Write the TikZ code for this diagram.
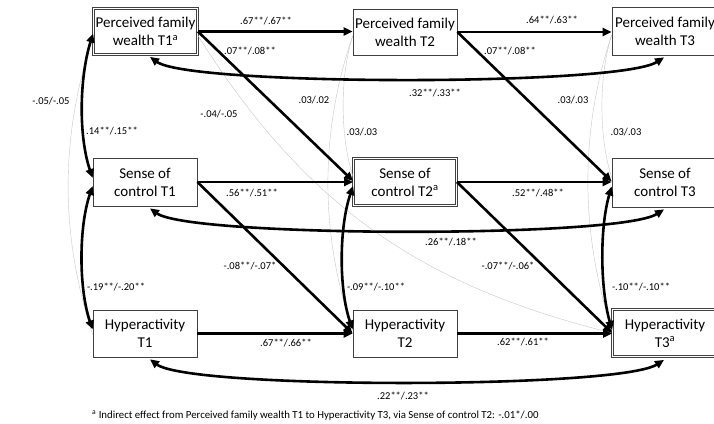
\documentclass[tikz,border=0pt]{standalone}
\usepackage{fontspec}
\setmainfont{Carlito}
\usetikzlibrary{arrows.meta,calc}
\begin{document}
\begin{tikzpicture}[x=1pt,y=-1pt,
  box/.style={draw=black!75, line width=0.7pt, align=center, fill=white,
    font=\fontsize{15}{18}\selectfont, inner sep=0pt},
  dbox/.style={box, double=white, double distance=1.4pt, line width=0.8pt},
  reg/.style={line width=2.6pt, -{Triangle[length=9pt,width=8pt]}},
  cov/.style={line width=2.6pt, {Triangle[length=9pt,width=8pt]}-{Triangle[length=9pt,width=8pt]}},
  faint/.style={line width=0.4pt, draw=black!22},
  lab/.style={font=\fontsize{10.5}{12}\selectfont, inner sep=0pt},
  note/.style={font=\fontsize{10.8}{12}\selectfont, inner sep=0pt}
]
\useasboundingbox (0,0) rectangle (714,423);

% boxes
\node[dbox, minimum width=104pt, minimum height=46pt] (pfw1) at (145.5,31.5) {Perceived family\\wealth T1\textsuperscript{a}};
\node[box, minimum width=104pt, minimum height=46pt] (pfw2) at (405,32) {Perceived family\\wealth T2};
\node[box, minimum width=106pt, minimum height=48pt] (pfw3) at (665,31) {Perceived family\\wealth T3};
\node[box, minimum width=104pt, minimum height=48pt] (s1) at (145,182) {Sense of\\control T1};
\node[dbox, minimum width=103pt, minimum height=47pt] (s2) at (405,182) {Sense of\\control T2\textsuperscript{a}};
\node[box, minimum width=106pt, minimum height=49pt] (s3) at (665,182.5) {Sense of\\control T3};
\node[box, minimum width=104pt, minimum height=47pt] (h1) at (145,333.5) {Hyperactivity\\T1};
\node[box, minimum width=104pt, minimum height=47pt] (h2) at (405,333.5) {Hyperactivity\\T2};
\node[dbox, minimum width=105pt, minimum height=47pt] (h3) at (665,333) {Hyperactivity\\T3\textsuperscript{a}};

% faint paths
\draw[faint] ($(pfw1.west)+(0,5)$) .. controls ($(pfw1.west)+(-33,105)$) and ($(h1.west)+(-33,-100)$) .. ($(h1.west)+(0,1)$);
\draw[faint] ($(pfw2.west)+(0,4)$) .. controls ($(pfw2.west)+(-13,45)$) and ($(s2.west)+(-13,-45)$) .. ($(s2.west)+(0,-5)$);
\draw[faint] ($(pfw2.west)+(0,4)$) .. controls ($(pfw2.west)+(-33,100)$) and ($(h2.west)+(-33,-100)$) .. ($(h2.west)+(0,-3)$);
\draw[faint] ($(pfw3.west)+(0,4)$) .. controls ($(pfw3.west)+(-13,45)$) and ($(s3.west)+(-13,-45)$) .. ($(s3.west)+(0,-5)$);
\draw[faint] ($(pfw3.west)+(0,4)$) .. controls ($(pfw3.west)+(-32,100)$) and ($(h3.west)+(-32,-100)$) .. ($(h3.west)+(0,-3)$);
\draw[faint] ($(pfw1.east)+(0,4)$) .. controls (304,204) and (418,285) .. (h3.west);

% autoregressive paths
\draw[reg] (pfw1.east) -- (pfw1.east -| pfw2.west);
\draw[reg] (pfw2.east) -- (pfw2.east -| pfw3.west);
\draw[reg] (s1.east) -- (s1.east -| s2.west);
\draw[reg] (s2.east) -- (s2.east -| s3.west);
\draw[reg] (h1.east) -- (h1.east -| h2.west);
\draw[reg] (h2.east) -- (h2.east -| h3.west);

% cross-lagged paths
\draw[reg] (pfw1.east) -- ($(s2.west)+(0,-1)$);
\draw[reg] (pfw2.east) -- ($(s3.west)+(0,-1)$);
\draw[reg] (s1.east) -- (h2.west);
\draw[reg] (s2.east) -- (h3.west);

% vertical covariances
\draw[cov] ($(pfw1.west)+(0,2)$) .. controls ($(pfw1.west)+(-14,47)$) and ($(s1.west)+(-14,-45)$) .. ($(s1.west)+(0,-4)$);
\draw[cov] ($(s1.west)+(0,4)$) .. controls ($(s1.west)+(-14,45)$) and ($(h1.west)+(-14,-45)$) .. ($(h1.west)+(0,-4)$);
\draw[cov] ($(s2.west)+(0,4)$) .. controls ($(s2.west)+(-14,45)$) and ($(h2.west)+(-14,-45)$) .. ($(h2.west)+(0,-4)$);
\draw[cov] ($(s3.west)+(0,4)$) .. controls ($(s3.west)+(-12,45)$) and ($(h3.west)+(-12,-45)$) .. ($(h3.west)+(0,-3)$);

% horizontal covariances
\draw[cov] ($(pfw1.south)+(4.5,2)$) .. controls ($(pfw1.south)+(44.5,31)$) and ($(pfw3.south)+(-46,31)$) .. ($(pfw3.south)+(-1,2)$);
\draw[cov] ($(s1.south)+(5,2)$) .. controls ($(s1.south)+(45,31)$) and ($(s3.south)+(-46,31)$) .. ($(s3.south)+(-1,2)$);
\draw[cov] ($(h1.south)+(5,2)$) .. controls ($(h1.south)+(45,32)$) and ($(h3.south)+(-46,32)$) .. ($(h3.south)+(-1,3)$);

% labels
\node[lab] (l1) at (266,21) {.67**/.67**};
\node[lab] (l2) at (552,20) {.64**/.63**};
\node[lab] (l3) at (250,51) {.07**/.08**};
\node[lab] (l4) at (510,51) {.07**/.08**};
\node[lab] (l5) at (435,93) {.32**/.33**};
\node[lab] (l6) at (51,101) {-.05/-.05};
\node[lab] (l7) at (112,131) {.14**/.15**};
\node[lab] (l8) at (219,114) {-.04/-.05};
\node[lab] (l9) at (314,100) {.03/.02};
\node[lab] (l10) at (362,132) {.03/.03};
\node[lab] (l11) at (573,100) {.03/.03};
\node[lab] (l12) at (626,132) {.03/.03};
\node[lab] (l13) at (252,193) {.56**/.51**};
\node[lab] (l14) at (538,193) {.52**/.48**};
\node[lab] (l15) at (451,242) {.26**/.18**};
\node[lab] (l16) at (250,266) {-.08**/-.07*};
\node[lab] (l17) at (508,266) {-.07**/-.06*};
\node[lab] (l18) at (116,287) {-.19**/-.20**};
\node[lab] (l19) at (376,287) {-.09**/-.10**};
\node[lab] (l20) at (641,287) {-.10**/-.10**};
\node[lab] (l21) at (286,343) {.67**/.66**};
\node[lab] (l22) at (523,342) {.62**/.61**};
\node[lab] (l23) at (403,396) {.22**/.23**};
\node[note, anchor=west] (fn) at (92,416) {\textsuperscript{a} Indirect effect from Perceived family wealth T1 to Hyperactivity T3, via Sense of control T2: -.01*/.00};
\end{tikzpicture}
\end{document}
